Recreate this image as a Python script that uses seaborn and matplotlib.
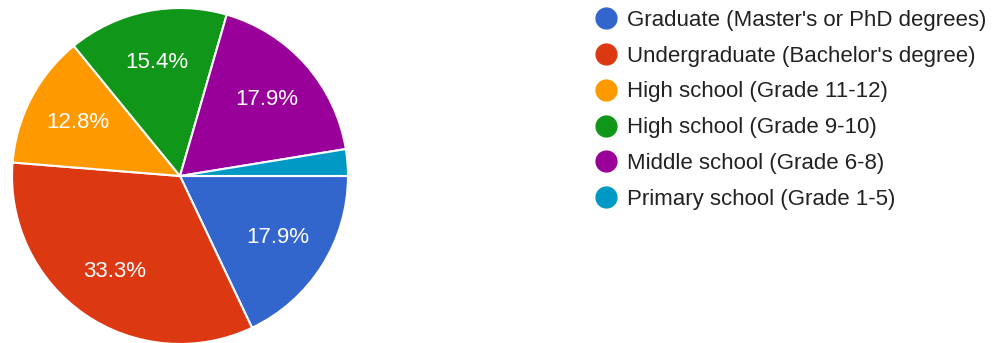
import matplotlib
matplotlib.use("Agg")
import matplotlib.pyplot as plt
from matplotlib.lines import Line2D
import seaborn as sns

categories = [
    "Graduate (Master's or PhD degrees)",
    "Undergraduate (Bachelor's degree)",
    "High school (Grade 11-12)",
    "High school (Grade 9-10)",
    "Middle school (Grade 6-8)",
    "Primary school (Grade 1-5)",
]
counts = [7, 13, 5, 6, 7, 1]
colors = ["#3366CC", "#DC3912", "#FF9900", "#109618", "#990099", "#0099C6"]

sns.set_theme(style="white")
plt.rcParams["font.family"] = ["Liberation Sans", "DejaVu Sans"]

fig = plt.figure(figsize=(10, 3.43), dpi=100)
cx, cy, r = 180, 176, 168
W, H = 1000, 343
ax = fig.add_axes([(cx - r) / W, (H - cy - r) / H, 2 * r / W, 2 * r / H])

palette = sns.color_palette(colors)
wedges, texts, autotexts = ax.pie(
    counts,
    colors=palette,
    startangle=0,
    counterclock=False,
    autopct=lambda p: f"{p:.1f}%" if p > 5 else "",
    pctdistance=0.69,
    wedgeprops=dict(edgecolor="white", linewidth=1.5),
    textprops=dict(color="white", fontsize=16),
)
ax.set_xlim(-1.0, 1.0)
ax.set_ylim(-1.0, 1.0)
ax.set_aspect("equal")
ax.axis("off")

handles = [
    Line2D([0], [0], marker="o", linestyle="none", markersize=15,
           markerfacecolor=c, markeredgecolor=c)
    for c in colors
]
leg = fig.legend(
    handles, categories,
    loc="upper left",
    bbox_to_anchor=(0.574, 1.03),
    frameon=False,
    fontsize=16,
    handletextpad=0.4,
    labelspacing=0.67,
    handlelength=1.1,
)
for t in leg.get_texts():
    t.set_color("#222222")

fig.savefig("out.png", dpi=100, facecolor="white")
